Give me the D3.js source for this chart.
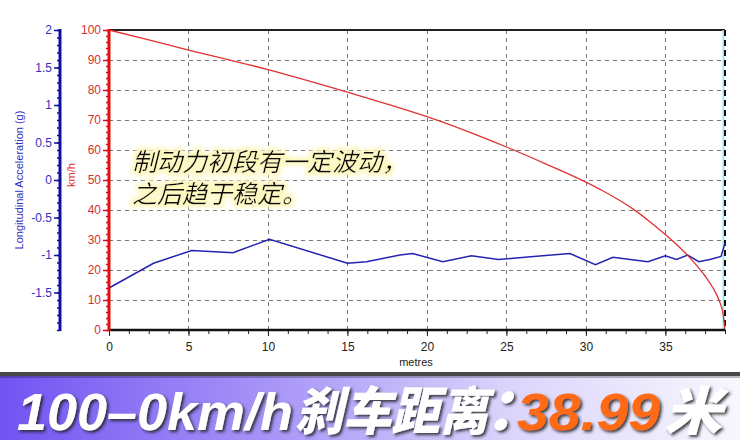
<!DOCTYPE html>
<html>
<head>
<meta charset="utf-8">
<script src="https://cdn.jsdelivr.net/npm/d3@7"></script>
<style>
  html, body { margin: 0; padding: 0; background: #fff; }
  svg { display: block; }
</style>
</head>
<body>
<svg id="chart" width="740" height="440"></svg>
<script>
// ---- data ----
const speedDistance = [0, 2.5, 5, 7.5, 10, 12.5, 15, 17.5, 20, 22.5, 25, 27.5, 30, 31, 32, 33, 34, 35, 35.5, 36, 36.5, 37, 37.5, 38, 38.4, 38.6, 38.75];
const speedKmh      = [100, 96.7, 93.3, 90.1, 86.8, 83.1, 79.3, 75.3, 71.1, 66.3, 61, 55.3, 49.3, 46.6, 43.6, 40.2, 36.2, 31.8, 29.5, 27, 24.3, 21.3, 18, 14, 9.6, 6.2, 0];

const accelDistance = [0, 2.8, 5.2, 7.8, 10.1, 15, 16.2, 18.3, 19.1, 21, 22.8, 24.5, 26.7, 29, 30.6, 31.7, 33.9, 35, 35.7, 36.4, 37.1, 37.8, 38.5, 38.75];
const accelG        = [-1.44, -1.11, -0.94, -0.97, -0.79, -1.11, -1.09, -1.0, -0.98, -1.09, -1.01, -1.06, -1.02, -0.98, -1.13, -1.03, -1.09, -1.01, -1.06, -1.0, -1.09, -1.06, -1.02, -0.84];

const xTicks = [0, 5, 10, 15, 20, 25, 30, 35];
const speedTicks = [0, 10, 20, 30, 40, 50, 60, 70, 80, 90, 100];
const accelTicks = [-1.5, -1, -0.5, 0, 0.5, 1, 1.5, 2];

const xMax = 38.75;
const xLabel = "metres";
const speedLabel = "km/h";
const accelLabel = "Longitudinal Acceleration (g)";
const noteLines = ["制动力初段有一定波动，", "之后趋于稳定。"];
const bannerParts = ["100–0km/h", "刹车距离", "：", "38.99", "米"];

// ---- layout ----
const svg = d3.select("#chart");
const L = 109, R = 725, T = 30, B = 330;
const redAxisX = 109, blueAxisX = 60;

const x = d3.scaleLinear().domain([0, xMax]).range([L, R]);
const ySpeed = d3.scaleLinear().domain([0, 100]).range([B, T]);
const yAccel = d3.scaleLinear().domain([-2, 2]).range([B, T]);

const defs = svg.append("defs");
const glow = defs.append("filter").attr("id", "glow").attr("x", "-10%").attr("y", "-30%").attr("width", "120%").attr("height", "160%");
glow.append("feMorphology").attr("in", "SourceAlpha").attr("operator", "dilate").attr("radius", 2.5).attr("result", "d");
glow.append("feGaussianBlur").attr("in", "d").attr("stdDeviation", 2).attr("result", "b");
glow.append("feFlood").attr("flood-color", "#fdf7c0").attr("result", "f");
glow.append("feComposite").attr("in", "f").attr("in2", "b").attr("operator", "in").attr("result", "g");
const gm = glow.append("feMerge");
gm.append("feMergeNode").attr("in", "g");
gm.append("feMergeNode").attr("in", "SourceGraphic");

const shadow = defs.append("filter").attr("id", "shadow").attr("x", "-10%").attr("y", "-20%").attr("width", "130%").attr("height", "150%");
shadow.append("feDropShadow").attr("dx", 2).attr("dy", 2).attr("stdDeviation", 1.6).attr("flood-color", "#222").attr("flood-opacity", 0.85);

const grad = defs.append("linearGradient").attr("id", "bannerGrad").attr("x1", "0").attr("x2", "1").attr("y1", "0").attr("y2", "0");
grad.append("stop").attr("offset", "0").attr("stop-color", "#7253f2");
grad.append("stop").attr("offset", "0.35").attr("stop-color", "#a592f7");
grad.append("stop").attr("offset", "0.7").attr("stop-color", "#dcd6fb");
grad.append("stop").attr("offset", "1").attr("stop-color", "#f8f7fe");

// grid
const grid = svg.append("g").attr("stroke", "#777").attr("stroke-width", 1).attr("stroke-dasharray", "4,4");
grid.selectAll("line.h").data(speedTicks.filter(d => d > 0 && d < 100)).join("line")
  .attr("x1", L).attr("x2", R).attr("y1", d => ySpeed(d) + 0.5).attr("y2", d => ySpeed(d) + 0.5);
grid.selectAll("line.v").data(xTicks.filter(d => d > 0)).join("line")
  .attr("y1", T).attr("y2", B).attr("x1", d => Math.round(x(d)) + 0.5).attr("x2", d => Math.round(x(d)) + 0.5);

// frame: top line, right dashed edge
svg.append("line").attr("x1", L).attr("x2", R).attr("y1", T).attr("y2", T).attr("stroke", "#222").attr("stroke-width", 2);
svg.append("line").attr("x1", R - 1.5).attr("x2", R - 1.5).attr("y1", T).attr("y2", B).attr("stroke", "#9ee8ec").attr("stroke-width", 2);
svg.append("line").attr("x1", R).attr("x2", R).attr("y1", T).attr("y2", B).attr("stroke", "#111").attr("stroke-width", 2).attr("stroke-dasharray", "6,4");

// lines
const speedData = speedDistance.map((d, i) => [d, speedKmh[i]]);
const accelData = accelDistance.map((d, i) => [d, accelG[i]]);
svg.append("path").datum(accelData).attr("fill", "none").attr("stroke", "#2424b0").attr("stroke-width", 1.5)
  .attr("d", d3.line().x(d => x(d[0])).y(d => yAccel(d[1])));
svg.append("path").datum(speedData).attr("fill", "none").attr("stroke", "#e03232").attr("stroke-width", 1.3)
  .attr("d", d3.line().curve(d3.curveMonotoneX).x(d => x(d[0])).y(d => ySpeed(d[1])));

// x axis
const xMinor = d3.range(0, xMax + 0.001, 1.25);
const xAxisG = svg.append("g").attr("transform", `translate(0,${B})`);
xAxisG.call(d3.axisBottom(x).tickValues(xMinor).tickSize(4).tickFormat(""));
const xMajG = svg.append("g").attr("transform", `translate(0,${B})`);
xMajG.call(d3.axisBottom(x).tickValues(xTicks).tickSize(6).tickPadding(6).tickFormat(d3.format("d")));
[xAxisG, xMajG].forEach(g => {
  g.select(".domain").remove();
  g.selectAll("line").attr("stroke", "#222");
  g.selectAll("text").attr("font-family", "Liberation Sans, Arial, sans-serif").attr("font-size", 12).attr("fill", "#222");
});
svg.append("line").attr("x1", L).attr("x2", R).attr("y1", B).attr("y2", B).attr("stroke", "#111").attr("stroke-width", 2.5);
svg.append("text").attr("x", 416).attr("y", 366).attr("text-anchor", "middle")
  .attr("font-family", "Liberation Sans, Arial, sans-serif").attr("font-size", 11).attr("fill", "#222").text(xLabel);

// red speed axis
const redMinor = d3.range(0, 100.001, 2);
const rMin = svg.append("g").attr("transform", `translate(${redAxisX},0)`)
  .call(d3.axisLeft(ySpeed).tickValues(redMinor).tickSize(3).tickFormat(""));
const rMaj = svg.append("g").attr("transform", `translate(${redAxisX},0)`)
  .call(d3.axisLeft(ySpeed).tickValues(speedTicks).tickSize(6).tickPadding(2).tickFormat(d3.format("d")));
[rMin, rMaj].forEach(g => {
  g.select(".domain").remove();
  g.selectAll("line").attr("stroke", "#e01010").attr("stroke-width", 1.5);
  g.selectAll("text").attr("font-family", "Liberation Sans, Arial, sans-serif").attr("font-size", 12).attr("fill", "#d83030");
});
svg.append("line").attr("x1", redAxisX).attr("x2", redAxisX).attr("y1", T - 1).attr("y2", B + 1).attr("stroke", "#e01010").attr("stroke-width", 3);
svg.append("text").attr("transform", `translate(75,175) rotate(-90)`).attr("text-anchor", "middle")
  .attr("font-family", "Liberation Sans, Arial, sans-serif").attr("font-size", 11).attr("fill", "#d83030").text(speedLabel);

// blue accel axis
const blueMinor = d3.range(-20, 21).map(d => d / 10);
const bMin = svg.append("g").attr("transform", `translate(${blueAxisX},0)`)
  .call(d3.axisLeft(yAccel).tickValues(blueMinor).tickSize(3).tickFormat(""));
const bMaj = svg.append("g").attr("transform", `translate(${blueAxisX},0)`)
  .call(d3.axisLeft(yAccel).tickValues(accelTicks).tickSize(6).tickPadding(2).tickFormat(d => String(d)));
[bMin, bMaj].forEach(g => {
  g.select(".domain").remove();
  g.selectAll("line").attr("stroke", "#1010a0").attr("stroke-width", 1.5);
  g.selectAll("text").attr("font-family", "Liberation Sans, Arial, sans-serif").attr("font-size", 12).attr("fill", "#3030c0");
});
svg.append("line").attr("x1", blueAxisX).attr("x2", blueAxisX).attr("y1", T - 1).attr("y2", B + 1).attr("stroke", "#1010a0").attr("stroke-width", 3);
svg.append("text").attr("transform", `translate(23,180) rotate(-90)`).attr("text-anchor", "middle")
  .attr("font-family", "Liberation Sans, Arial, sans-serif").attr("font-size", 11).attr("fill", "#3030c0").text(accelLabel);

// annotation
const note = svg.append("g").attr("filter", "url(#glow)");
note.selectAll("text").data(noteLines).join("text")
  .attr("x", 132).attr("y", (d, i) => 171 + i * 32)
  .attr("font-family", "Noto Sans CJK SC, sans-serif").attr("font-size", 25).attr("font-style", "italic")
  .attr("fill", "#111").text(d => d);

// banner
svg.append("rect").attr("x", 0).attr("y", 375).attr("width", 740).attr("height", 65).attr("fill", "url(#bannerGrad)");
svg.append("rect").attr("x", 0).attr("y", 372).attr("width", 740).attr("height", 4).attr("fill", "#4a4a4a");
svg.append("rect").attr("x", 0).attr("y", 376).attr("width", 740).attr("height", 2).attr("fill", "#000").attr("opacity", 0.25);

const bannerSpec = [
  { x: 17, w: 276, size: 52, fill: "#fff", font: "Liberation Sans, Arial, sans-serif" },
  { x: 295, w: 193, size: 52, fill: "#fff", font: "Noto Sans CJK SC, sans-serif" },
  { x: 485, w: null, size: 58, fill: "#fff", font: "Noto Sans CJK SC, sans-serif" },
  { x: 517, w: 143, size: 52, fill: "#ff6a14", font: "Liberation Sans, Arial, sans-serif" },
  { x: 664, w: 58, size: 52, fill: "#fff", font: "Noto Sans CJK SC, sans-serif" }
];
const bannerG = svg.append("g").attr("filter", "url(#shadow)");
bannerG.selectAll("text").data(bannerParts).join("text")
  .attr("x", (d, i) => bannerSpec[i].x).attr("y", 430)
  .attr("textLength", (d, i) => bannerSpec[i].w)
  .attr("lengthAdjust", (d, i) => bannerSpec[i].w ? "spacingAndGlyphs" : null)
  .attr("font-family", (d, i) => bannerSpec[i].font)
  .attr("font-size", (d, i) => bannerSpec[i].size).attr("font-weight", 900).attr("font-style", "italic")
  .attr("fill", (d, i) => bannerSpec[i].fill).text(d => d);
</script>
</body>
</html>
